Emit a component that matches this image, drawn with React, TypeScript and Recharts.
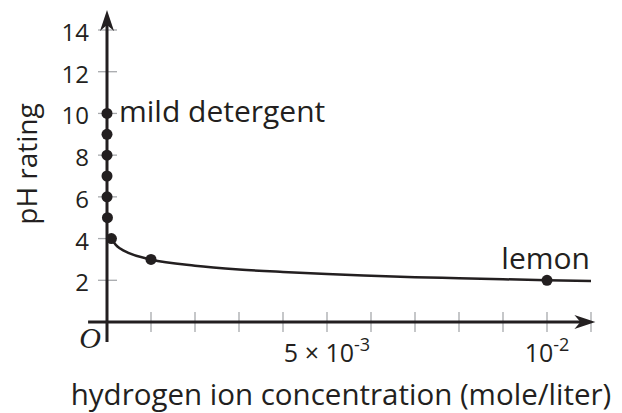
import React from 'react';
import {
  ComposedChart,
  Line,
  XAxis,
  YAxis,
  ReferenceLine,
  ReferenceDot,
  Label,
} from 'recharts';

// measured points: hydrogen ion concentration (mole/liter) vs pH
const pointConc = [1e-10, 1e-9, 1e-8, 1e-7, 1e-6, 1e-5, 1e-4, 1e-3, 1e-2];
const pointPH = [10, 9, 8, 7, 6, 5, 4, 3, 2];

// curve, from pH 4 out to the end of the axis
const curveConc = [0.0001, 0.0002, 0.0003, 0.0005, 0.001, 0.002, 0.003, 0.004, 0.005, 0.006, 0.007, 0.008, 0.009, 0.01, 0.011];
const curvePH = [4, 3.7, 3.52, 3.3, 3, 2.7, 2.52, 2.4, 2.3, 2.22, 2.15, 2.1, 2.05, 2, 1.96];

const xTicks = [0.001, 0.002, 0.003, 0.004, 0.005, 0.006, 0.007, 0.008, 0.009, 0.01, 0.011];
const xLabelTicks = [0.005, 0.01];
const xLabelBase = ['5 \u00d7 10', '10'];
const xLabelExp = ['-3', '-2'];
const yTicks = [2, 4, 6, 8, 10, 12, 14];

const xDomain = [0, 0.011];
const yDomain = [0, 14];
const xAxisExtent = [-0.00043, 0.0111];
const yAxisExtent = [-0.96, 14.96];

const annotations = [
  { x: 0, y: 10, text: 'mild detergent' },
  { x: 0.01, y: 2, text: 'lemon' },
];

const ink = '#231f20';
const tickGrey = '#a7a9ac';
const font = '"Open Sans", sans-serif';

const points = pointConc.map((x, i) => ({ x, y: pointPH[i] }));
const curve = curveConc.map((x, i) => ({ x, y: curvePH[i] }));

// label only; the tick marks themselves are drawn as reference lines so dots sit on top
function XTick({ x, y, payload }: any) {
  const idx = xLabelTicks.indexOf(payload.value);
  if (idx < 0) return <g />;
  return (
    <text x={x} y={y + 40} textAnchor="middle" fontFamily={font} fontSize={25} fill={ink}>
      <tspan>{xLabelBase[idx]}</tspan>
      <tspan dy={-11} fontSize={18}>{xLabelExp[idx]}</tspan>
    </text>
  );
}

function YTick({ x, y, payload }: any) {
  return (
    <text x={x - 18} y={y + 11} textAnchor="end" fontFamily={font} fontSize={24} fill={ink}>
      {payload.value}
    </text>
  );
}

function TickMark({ x1, y1, x2, y2 }: any) {
  if (Math.abs(y1 - y2) < 0.5) {
    const x = Math.min(x1, x2);
    return <line x1={x - 9} x2={x + 10} y1={y1} y2={y1} stroke={tickGrey} strokeWidth={1.3} />;
  }
  const y = Math.max(y1, y2);
  return <line x1={x1} x2={x1} y1={y - 10} y2={y + 10} stroke={tickGrey} strokeWidth={1.3} />;
}

function ArrowAxis({ x1, y1, x2, y2 }: any) {
  const ang = Math.atan2(y2 - y1, x2 - x1);
  const c = Math.cos(ang);
  const s = Math.sin(ang);
  const pt = (a: number, b: number) => `${x2 + a * c - b * s},${y2 + a * s + b * c}`;
  return (
    <g>
      <line x1={x1} y1={y1} x2={x2 - 14 * c} y2={y2 - 14 * s} stroke={ink} strokeWidth={3} />
      <polygon points={[pt(0, 0), pt(-21, -7), pt(-15, 0), pt(-21, 7)].join(' ')} fill={ink} />
    </g>
  );
}

function annotationLabel(i: number) {
  return ({ viewBox }: any) => {
    const { x, y } = viewBox;
    if (i === 0) {
      return (
        <text x={x + 12} y={y + 9} fontFamily={font} fontSize={30} fill={ink}>
          {annotations[i].text}
        </text>
      );
    }
    return (
      <text x={x + 43} y={y - 11} textAnchor="end" fontFamily={font} fontSize={30} fill={ink}>
        {annotations[i].text}
      </text>
    );
  };
}

export default function App(): React.JSX.Element {
  return (
    <div style={{ position: 'absolute', left: 0, top: 0, background: '#fff' }}>
      <ComposedChart width={622} height={413} margin={{ top: 30, right: 31, bottom: 61, left: 47 }}>
        <XAxis
          type="number"
          dataKey="x"
          domain={xDomain}
          ticks={xTicks}
          height={30}
          axisLine={false}
          tickLine={false}
          tickSize={0}
          tickMargin={0}
          tick={<XTick />}
          interval={0}
        >
          <Label
            content={() => (
              <g>
                <text x={341} y={405} textAnchor="middle" fontFamily={font} fontSize={29.5} fill={ink}>
                  hydrogen ion concentration (mole/liter)
                </text>
                <text x={90} y={348} textAnchor="middle" fontFamily='"Liberation Serif", serif' fontStyle="italic" fontSize={30} fill={ink}>
                  O
                </text>
              </g>
            )}
          />
        </XAxis>
        <YAxis
          type="number"
          dataKey="y"
          domain={yDomain}
          ticks={yTicks}
          width={60}
          axisLine={false}
          tickLine={false}
          tickSize={0}
          tickMargin={0}
          tick={<YTick />}
          interval={0}
        >
          <Label
            content={() => (
              <text x={37} y={164} transform="rotate(-90, 37, 164)" textAnchor="middle" fontFamily={font} fontSize={28} fill={ink}>
                pH rating
              </text>
            )}
          />
        </YAxis>
        {yTicks.map((v) => (
          <ReferenceLine key={`y${v}`} y={v} ifOverflow="visible" shape={<TickMark />} />
        ))}
        {xTicks.map((v) => (
          <ReferenceLine key={`x${v}`} x={v} ifOverflow="visible" shape={<TickMark />} />
        ))}
        <ReferenceLine
          segment={[{ x: xAxisExtent[0], y: 0 }, { x: xAxisExtent[1], y: 0 }]}
          ifOverflow="visible"
          shape={<ArrowAxis />}
        />
        <ReferenceLine
          segment={[{ x: 0, y: yAxisExtent[0] }, { x: 0, y: yAxisExtent[1] }]}
          ifOverflow="visible"
          shape={<ArrowAxis />}
        />
        <Line
          data={curve}
          dataKey="y"
          type="monotone"
          stroke={ink}
          strokeWidth={2.5}
          dot={false}
          activeDot={false}
          isAnimationActive={false}
        />
        {points.map((p) => (
          <ReferenceDot key={p.y} x={p.x} y={p.y} r={5.5} fill={ink} stroke="none" ifOverflow="visible" />
        ))}
        {annotations.map((a, i) => (
          <ReferenceDot key={a.text} x={a.x} y={a.y} r={0} ifOverflow="visible" label={annotationLabel(i)} />
        ))}
      </ComposedChart>
    </div>
  );
}
